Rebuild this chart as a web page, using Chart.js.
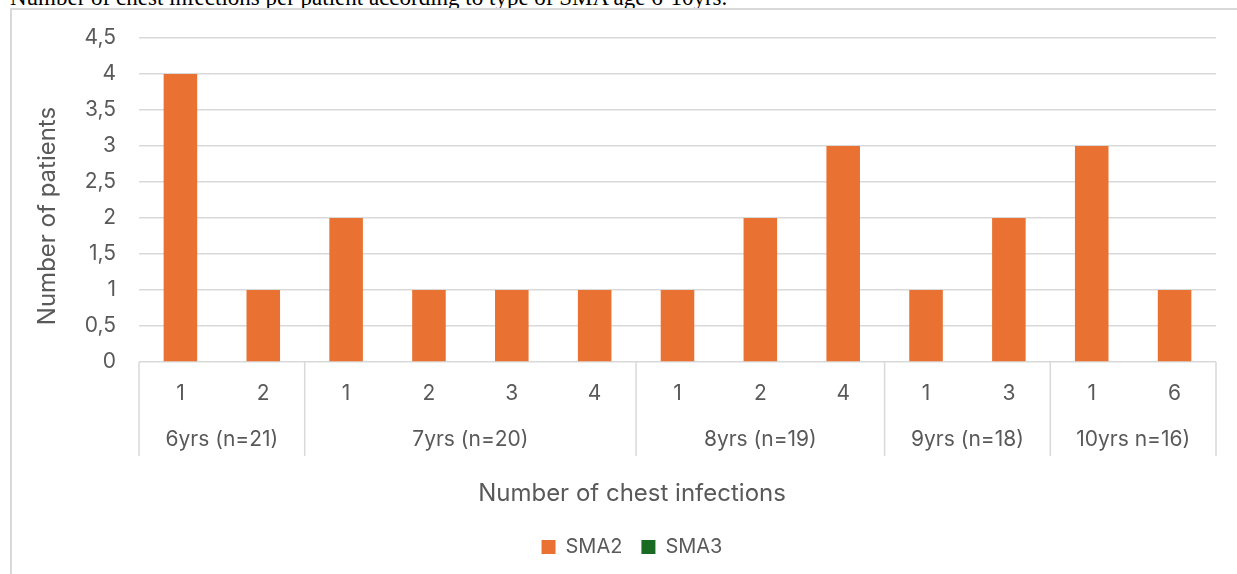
<!DOCTYPE html>
<html>
<head>
<meta charset="utf-8">
<script src="https://cdn.jsdelivr.net/npm/chart.js@4.4.1/dist/chart.umd.min.js"></script>
<style>
  html, body { margin: 0; padding: 0; background: #fff; overflow: hidden; }
  body { width: 1237px; height: 574px; position: relative; }
  #caption {
    position: absolute; left: 10px; top: -14px;
    font-family: "Liberation Serif", "Times New Roman", serif;
    font-size: 23px; line-height: 23px; color: #000; white-space: nowrap;
  }
  #frame {
    position: absolute; left: 10px; top: 8px; width: 1300px; height: 700px;
    border-left: 2px solid #d9d9d9; border-top: 2px solid #d9d9d9;
    box-sizing: border-box;
  }
  #chart { position: absolute; left: 0; top: 0; }
</style>
</head>
<body>
<div id="caption">Number of chest infections per patient according to type of SMA age 6-10yrs.</div>
<div id="frame"></div>
<canvas id="chart" width="1237" height="574"></canvas>
<script>
// Chest infections per patient, grouped by age band
const categories = ['1', '2', '1', '2', '3', '4', '1', '2', '4', '1', '3', '1', '6'];
const groupNames = ['6yrs (n=21)', '7yrs (n=20)', '8yrs (n=19)', '9yrs (n=18)', '10yrs n=16)'];
const groupSizes = [2, 4, 3, 2, 2];
const sma2 = [4, 1, 2, 1, 1, 1, 1, 2, 3, 1, 2, 3, 1];
const sma3 = [0, 0, 0, 0, 0, 0, 0, 0, 0, 0, 0, 0, 0];
const yTickLabels = ['0', '0,5', '1', '1,5', '2', '2,5', '3', '3,5', '4', '4,5'];
const xTitle = 'Number of chest infections';
const yTitle = 'Number of patients';

const FONT = 'Inter';
const TEXT = '#595959';
const GRID = '#d9d9d9';
const PAD_LEFT = 48;

// Second-level category row, separators and axis titles
const groupAxis = {
  id: 'groupAxis',
  afterDraw(chart) {
    const { ctx, chartArea } = chart;
    const x = chart.scales.x;
    const half = (x.getPixelForValue(1) - x.getPixelForValue(0)) / 2;
    ctx.save();
    ctx.strokeStyle = GRID;
    ctx.lineWidth = 1.5;
    let start = 0;
    const edges = [x.getPixelForValue(0) - half];
    groupSizes.forEach(n => {
      start += n;
      edges.push(x.getPixelForValue(start - 1) + half);
    });
    edges.forEach(px => {
      ctx.beginPath();
      ctx.moveTo(px, chartArea.bottom);
      ctx.lineTo(px, chartArea.bottom + 94);
      ctx.stroke();
    });
    ctx.fillStyle = TEXT;
    ctx.font = '21px ' + FONT;
    ctx.textAlign = 'center';
    ctx.textBaseline = 'middle';
    groupNames.forEach((g, i) => {
      ctx.fillText(g, (edges[i] + edges[i + 1]) / 2, chartArea.bottom + 78);
    });
    // axis titles
    ctx.font = '24px ' + FONT;
    ctx.fillText(xTitle, (PAD_LEFT + chartArea.right) / 2, chartArea.bottom + 132);
    ctx.translate(48, 216);
    ctx.rotate(-Math.PI / 2);
    ctx.fillText(yTitle, 0, 0);
    ctx.restore();
  }
};

new Chart(document.getElementById('chart'), {
  type: 'bar',
  data: {
    labels: categories,
    datasets: [
      { label: 'SMA2', data: sma2, backgroundColor: '#E97132', borderWidth: 0 },
      { label: 'SMA3', data: sma3, backgroundColor: '#196B24', borderWidth: 0 }
    ]
  },
  options: {
    responsive: false,
    animation: false,
    devicePixelRatio: 1,
    grouped: false,
    categoryPercentage: 1,
    barPercentage: 0.405,
    layout: { padding: { left: PAD_LEFT, right: 21, top: 38, bottom: 7 } },
    plugins: {
      tooltip: { enabled: false },
      title: { display: false },
      legend: {
        position: 'bottom',
        labels: {
          boxWidth: 14, boxHeight: 14, padding: 19,
          color: TEXT, font: { family: FONT, size: 20 }
        }
      }
    },
    scales: {
      x: {
        grid: { display: false, drawTicks: false },
        border: { display: false },
        ticks: { color: TEXT, font: { family: FONT, size: 21 }, padding: 19, maxRotation: 0, autoSkip: false },
        afterFit(scale) { scale.height = 156; }
      },
      y: {
        min: 0, max: 4.5,
        grid: { color: GRID, lineWidth: 1.5, drawTicks: false },
        border: { display: false },
        ticks: {
          stepSize: 0.5, color: TEXT, padding: 23,
          font: { family: FONT, size: 21 },
          callback: (v, i) => yTickLabels[i]
        },
        afterFit(scale) { scale.width = 91; }
      }
    }
  },
  plugins: [groupAxis]
});
</script>
</body>
</html>
